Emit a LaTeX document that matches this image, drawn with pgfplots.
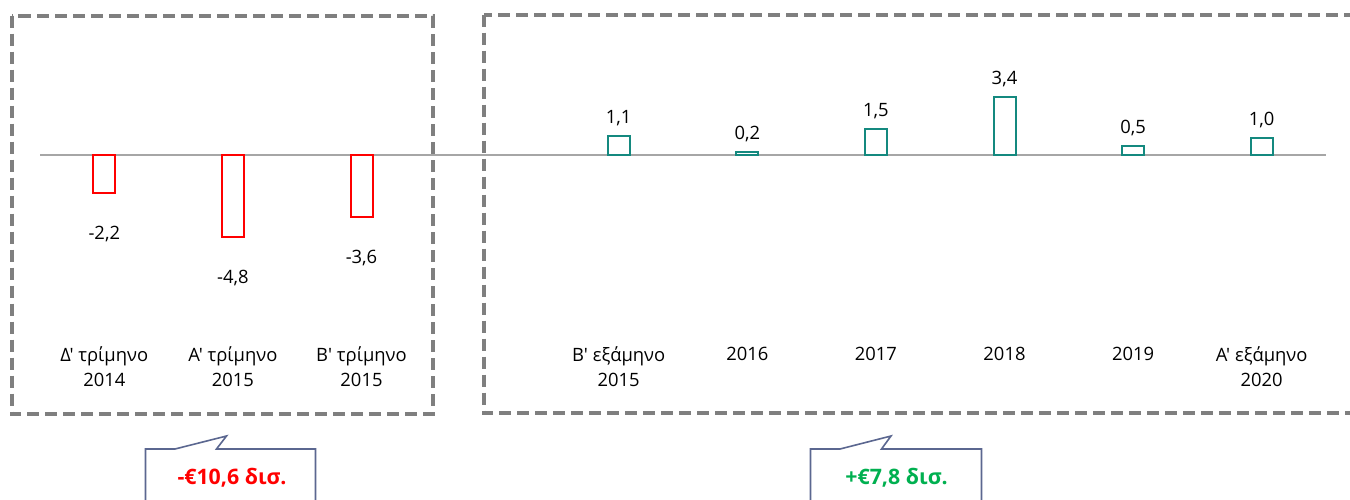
\documentclass[border=0pt]{standalone}
\usepackage{pgfplots}
\pgfplotsset{compat=1.18}
\usepackage{fontspec}
\setmainfont{Open Sans}[Ligatures=TeXOff]
\usepackage{xcolor}
\definecolor{neg}{HTML}{FF0000}
\definecolor{pos}{HTML}{14897F}
\definecolor{zero}{HTML}{A6A6A6}
\definecolor{frame}{HTML}{7F7F7F}
\definecolor{callout}{HTML}{5B6790}
\definecolor{good}{HTML}{00B050}

\begin{document}
\begin{tikzpicture}[x=0.75pt, y=-0.75pt]
\useasboundingbox (0,0) rectangle (1350,500);
% dashed group frames
\draw[frame, line width=3pt, dash pattern=on 9pt off 4.5pt] (11.5,15.5) rectangle (432.5,414);
\draw[frame, line width=3pt, dash pattern=on 9pt off 4.5pt] (483.5,14.5) rectangle (1358,413);

\begin{axis}[
  at={(30pt,-257.33pt)}, anchor=south west,
  width=964.5pt, height=243.68pt, scale only axis,
  xmin=-0.5, xmax=9.5, ymin=-11, ymax=8,
  axis line style={draw=none}, clip=false,
  ybar, bar width=16.5pt, bar shift=0pt,
  xtick={0,1,2,4,5,6,7,8,9},
  xticklabels={{Δ' τρίμηνο\\2014},{Α' τρίμηνο\\2015},{Β' τρίμηνο\\2015},{Β' εξάμηνο\\2015},2016,2017,2018,2019,{Α' εξάμηνο\\2020}},
  xticklabel style={font=\fontsize{13.8}{18.5}\selectfont, align=center, anchor=north, yshift=0.6pt},
  major tick length=0pt, ytick=\empty,
  nodes near coords={\pgfmathprintnumber[fixed, precision=1, fixed zerofill, use comma, assume math mode=true]{\pgfplotspointmeta}},
  nodes near coords style={font=\fontsize{13.8}{16}\selectfont, text=black, anchor=center},
]
\draw[zero, line width=1.2pt] (axis cs:-0.5,0) -- (axis cs:9.5,0);
\addplot[draw=neg, fill=white, line width=1.5pt,
  every node near coord/.append style={yshift=-30.75pt}]
  coordinates {(0,-2.2) (1,-4.8) (2,-3.6)};
\addplot[draw=pos, fill=white, line width=1.5pt,
  every node near coord/.append style={yshift=13.5pt}]
  coordinates {(4,1.1) (5,0.2) (6,1.5) (7,3.4) (8,0.5) (9,1.0)};
\end{axis}

% callouts
\draw[callout, line width=1.2pt, fill=white] (145.5,510) -- (145.5,449) -- (175,449) -- (226.5,436) -- (216.5,449) -- (315.5,449) -- (315.5,510);
\node[text=neg, font=\fontsize{16}{19}\selectfont\bfseries] at (232,478) {-€10,6 δισ.};
\draw[callout, line width=1.2pt, fill=white] (810.5,510) -- (810.5,449) -- (840,449) -- (891,436) -- (881.5,449) -- (981.5,449) -- (981.5,510);
\node[text=good, font=\fontsize{16}{19}\selectfont\bfseries] at (896.5,478) {+€7,8 δισ.};
\end{tikzpicture}
\end{document}
